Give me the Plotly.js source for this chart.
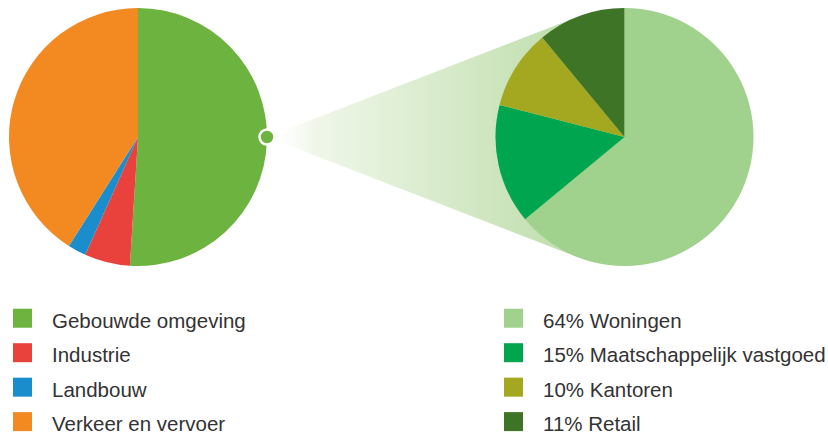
<!DOCTYPE html>
<html><head><meta charset="utf-8">
<script src="https://cdn.plot.ly/plotly-3.0.1.min.js"></script>
<style>html,body{margin:0;padding:0;background:#fff}#chart{width:828px;height:436px}</style>
</head><body><div id="chart"></div>
<script>
// ---- data ----
const sectorLabels = ['Gebouwde omgeving', 'Industrie', 'Landbouw', 'Verkeer en vervoer'];
const sectorValues = [51, 5.7, 2.3, 41];
const sectorColors = ['#6db33f', '#e9413b', '#1a8dcd', '#f28a21'];

const buildingLabels = ['64% Woningen', '15% Maatschappelijk vastgoed', '10% Kantoren', '11% Retail'];
const buildingValues = [64, 15, 10, 11];
const buildingColors = ['#a0d18d', '#00a550', '#a3a820', '#3d7426'];

// ---- geometry ----
const W = 828, H = 436;
const leftPie = {cx: 138, cy: 137, r: 129};
const rightPie = {cx: 624.5, cy: 137, r: 129};
function dom(p) {
  return {x: [(p.cx - p.r) / W, (p.cx + p.r) / W], y: [1 - (p.cy + p.r) / H, 1 - (p.cy - p.r) / H]};
}
const apex = {x: leftPie.cx + leftPie.r, y: leftPie.cy};
const d = rightPie.cx - apex.x;
const ang = Math.asin(rightPie.r / d);
const tl = Math.sqrt(d * d - rightPie.r * rightPie.r);
const t1 = {x: apex.x + tl * Math.cos(ang), y: apex.y - tl * Math.sin(ang)};
const t2 = {x: apex.x + tl * Math.cos(ang), y: apex.y + tl * Math.sin(ang)};

const labelSpan = s => '<span style="font-size:20.5px">' + s + '</span>';
const font = 'Liberation Sans, Arial, sans-serif';

const traces = [
  {
    type: 'scatter', mode: 'none',
    x: [apex.x, t1.x, rightPie.cx, t2.x, apex.x],
    y: [apex.y, t1.y, rightPie.cy, t2.y, apex.y],
    fill: 'toself',
    fillgradient: {type: 'horizontal', start: apex.x, stop: t1.x,
      colorscale: [[0, 'rgba(255,255,255,0)'], [0.15, 'rgba(240,247,234,1)'], [1, 'rgba(190,221,170,1)']]},
    hoverinfo: 'skip', showlegend: false
  },
  {
    type: 'pie', labels: sectorLabels.map(labelSpan), values: sectorValues,
    marker: {colors: sectorColors, line: {width: 0}},
    sort: false, direction: 'clockwise', rotation: 0,
    textinfo: 'none', hoverinfo: 'none', domain: dom(leftPie), legend: 'legend'
  },
  {
    type: 'pie', labels: buildingLabels.map(labelSpan), values: buildingValues,
    marker: {colors: buildingColors, line: {width: 0}},
    sort: false, direction: 'clockwise', rotation: 0,
    textinfo: 'none', hoverinfo: 'none', domain: dom(rightPie), legend: 'legend2'
  }
];

const legendBase = {
  xanchor: 'left', yanchor: 'top', y: 1 - 296 / H,
  font: {family: font, size: 24.2, color: '#333333'},
  bgcolor: 'rgba(0,0,0,0)', borderwidth: 0, itemwidth: 49, traceorder: 'normal'
};

const layout = {
  width: W, height: H,
  margin: {l: 0, r: 0, t: 0, b: 0, autoexpand: false},
  paper_bgcolor: '#ffffff', plot_bgcolor: 'rgba(0,0,0,0)',
  font: {family: font, color: '#333333'},
  xaxis: {range: [0, W], visible: false, fixedrange: true},
  yaxis: {range: [H, 0], visible: false, fixedrange: true},
  showlegend: true,
  legend: Object.assign({}, legendBase, {x: -7 / W}),
  legend2: Object.assign({}, legendBase, {x: 484 / W}),
  shapes: [{
    type: 'circle', xref: 'x', yref: 'y', layer: 'above',
    x0: apex.x - 7.5, x1: apex.x + 7.5, y0: apex.y - 7.5, y1: apex.y + 7.5,
    fillcolor: '#6db33f', line: {color: '#ffffff', width: 2.5}
  }]
};

Plotly.newPlot('chart', traces, layout, {displayModeBar: false, staticPlot: true}).then(gd => {
  gd.querySelectorAll('path.legendpie').forEach(p => p.setAttribute('d', 'M9.5,9.5H-9.5V-9.5H9.5Z'));
});
</script>
</body></html>
